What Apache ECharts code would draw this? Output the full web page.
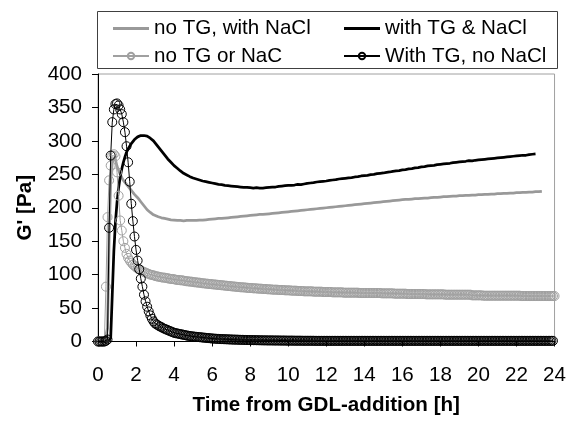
<!DOCTYPE html>
<html>
<head>
<meta charset="utf-8">
<script src="https://cdn.jsdelivr.net/npm/echarts@6/dist/echarts.min.js"></script>
<style>
html,body{margin:0;padding:0;background:#fff;}
#chart{width:569px;height:421px;}
</style>
</head>
<body>
<div id="chart"></div>
<script>
// Sampling times (minutes after GDL addition) for the two line series: 5-min up to 3 h, then 10-min
const lineMinutes = [
  0,5,10,15,20,25,30,35,40,45,50,55,60,65,70,75,80,85,90,95,100,105,110,115,120,125,130,135,140,145,150,155,160,165,170,175,180,
  190,200,210,220,230,240,
  250,260,270,280,290,300,
  310,320,330,340,350,360,
  370,380,390,400,410,420,
  430,440,450,460,470,480,
  490,500,510,520,530,540,
  550,560,570,580,590,600,
  610,620,630,640,650,660,
  670,680,690,700,710,720,
  730,740,750,760,770,780,
  790,800,810,820,830,840,
  850,860,870,880,890,900,
  910,920,930,940,950,960,
  970,980,990,1000,1010,1020,
  1030,1040,1050,1060,1070,1080,
  1090,1100,1110,1120,1130,1140,
  1150,1160,1170,1180,1190,1200,
  1210,1220,1230,1240,1250,1260,
  1270,1280,1290,1300,1310,1320,
  1330,1340,1350,1360,1370,1380,
  1390,1400
];

// Sampling times (minutes) for the two marker series: every 5 min
const markerMinutes = [
  0,5,10,15,20,25,30,35,40,45,50,55,60,65,70,75,80,85,90,95,100,105,110,115,120,125,130,135,140,145,150,155,160,165,170,175,180,
  185,190,195,200,205,210,215,220,225,230,235,240,
  245,250,255,260,265,270,275,280,285,290,295,300,
  305,310,315,320,325,330,335,340,345,350,355,360,
  365,370,375,380,385,390,395,400,405,410,415,420,
  425,430,435,440,445,450,455,460,465,470,475,480,
  485,490,495,500,505,510,515,520,525,530,535,540,
  545,550,555,560,565,570,575,580,585,590,595,600,
  605,610,615,620,625,630,635,640,645,650,655,660,
  665,670,675,680,685,690,695,700,705,710,715,720,
  725,730,735,740,745,750,755,760,765,770,775,780,
  785,790,795,800,805,810,815,820,825,830,835,840,
  845,850,855,860,865,870,875,880,885,890,895,900,
  905,910,915,920,925,930,935,940,945,950,955,960,
  965,970,975,980,985,990,995,1000,1005,1010,1015,1020,
  1025,1030,1035,1040,1045,1050,1055,1060,1065,1070,1075,1080,
  1085,1090,1095,1100,1105,1110,1115,1120,1125,1130,1135,1140,
  1145,1150,1155,1160,1165,1170,1175,1180,1185,1190,1195,1200,
  1205,1210,1215,1220,1225,1230,1235,1240,1245,1250,1255,1260,
  1265,1270,1275,1280,1285,1290,1295,1300,1305,1310,1315,1320,
  1325,1330,1335,1340,1345,1350,1355,1360,1365,1370,1375,1380,
  1385,1390,1395,1400,1405,1410,1415,1420,1425,1430,1435,1440
];

// no TG, with NaCl (grey line)
const noTGwithNaCl = [
  0,0,0,0,0,0,20,150,240,268,275,272,262,256,250,245,241,238,235,232,229,226,223,220,218,215,212,209,206,203,200,197,195,193,191,189.5,188,
  186.5,185,184,183,182,181.5,
  181,181,180.5,181,181,181,
  181,181.5,181.5,182,182.5,183,
  183.5,184,184,184.5,185,185.5,
  186,186.5,187,187.5,188,188.5,
  189,189.5,190,190,190.5,191,
  191.5,192,192.5,193,193.5,194,
  194.5,195,195.5,196,196.5,197,
  197.5,198,198.5,199,199.5,200,
  200.5,201,201.5,202,202.5,203,
  203.5,204,204.5,205,205.5,206,
  206.5,207,207.5,208,208.5,209,
  209.5,210,210.5,211,211.5,212,
  212.5,212.5,213,213.5,213.5,214,
  214.5,214.5,215,215.5,215.5,216,
  216.5,216.5,217,217.5,217.5,218,
  218,218.5,218.5,219,219,219.5,
  219.5,220,220,220.5,220.5,221,
  221,221.5,221.5,222,222,222.5,
  222.5,223,223,223.5,223.5,224,
  224,224.5
];

// with TG & NaCl (black line)
const withTGandNaCl = [
  0,0,0,0,0,0,0,0,5,70,135,178,208,230,246,258,268,276,283,288,292,296,299,302,304,306,307,308,308,308,308,307,306,304,302,300,297,
  291,285,279,273,268,263,
  259,255,251.5,249,246.5,244.5,
  243,241.5,240,239,238,237,
  236,235,234.5,233.5,233,232.5,
  232,231.5,231,230.5,230.5,230,
  229.5,230,229.5,229.5,230,230.5,
  231,231,232,232.5,233,233.5,
  233.5,234,235,234.5,235.5,236.5,
  237,237.5,238.5,239,239.5,240,
  241,241.5,242,243,243.5,244,
  244.5,245,246,246.5,247.5,248,
  248.5,249.5,250,251,251.5,252,
  253,253.5,254.5,255,255.5,256.5,
  257,258,258.5,259.5,260,261,
  261.5,262.5,263,263.5,264.5,265,
  265.5,266,266.5,267.5,268,268.5,
  269,269.5,270.5,270,271,271.5,
  272,272.5,273,273.5,274,274.5,
  275,275.5,276,276.5,277,277.5,
  278,278.5,278.5,279.5,280,280.5
];

// no TG or NaC (grey circles), 5-min samples
const noTGorNaC = [
  0,0,0,0,0,82,186,241,263,278,280,277,253,218,181,166,150,140,131,125,121,118,115,113,111,109,108,106.5,105,104,103,102,101,100,99.5,99,98,
  97.5,97,96.5,96,95.5,95.5,95,94.5,94,93.5,93.5,93,
  92.5,92,92,91.5,91.5,91,90.5,90,90,89.5,89.5,89,
  88.5,88.5,88,88,87.5,87,87,86.5,86.5,86,86,85.5,
  85.5,85,85,84.5,84.5,84,84,83.5,83.5,83,83,82.5,
  82.5,82,82,81.5,81.5,81,81,81,80.5,80.5,80,80,
  80,79.5,79.5,79.5,79,79,79,78.5,78.5,78.5,78,78,
  78,77.5,77.5,77.5,77.5,77,77,77,77,76.5,76.5,76.5,
  76.5,76,76,76,76,75.5,75.5,75.5,75.5,75,75,75,
  75,75,75,74.5,74.5,74.5,74.5,74.5,74.5,74,74,74,
  74,74,74,73.5,73.5,73.5,73.5,73.5,73.5,73.5,73,73,
  73,73,73,73,73,73,73,73,72.5,72.5,72.5,72.5,
  72.5,72.5,72.5,72.5,72.5,72.5,72.5,72.5,72.5,72.5,72,72,
  72,72,72,72,72,72,71.5,71.5,71.5,71.5,71.5,71.5,
  71.5,71.5,71,71,71,71,71,71,71,71,71,71,
  71,71,70.5,70.5,70.5,70.5,70.5,70.5,70.5,70.5,70.5,70.5,
  70.5,70.5,70,70,70,70,70,70,70,70,70,70,
  70,70,70,70,70,70,70,69,69,69,69,69,
  69,69,68.5,68.5,68.5,68.5,68.5,68.5,68.5,68.5,68.5,68.5,
  68.5,68.5,68.5,68.5,68.5,68.5,68.5,68.5,68.5,68.5,68.5,68.5,
  68.5,68.5,68,68,68,68,68,68,68,68,68,68,
  68,68,68,68,68,68,68,68,68,68,68,68
];

// With TG, no NaCl (black circles), 5-min samples
const withTGnoNaCl = [
  0,0,0,0,0,1,3,170,278,328,347,355,356,353,347,340,328,313,292,268,239,206,180,157,137,121,108,94,82,70,60,52,45,39,34,30,27,
  25.5,24,22.5,21.5,20,19,18,17,16,15,14,13,
  12.5,12,11.5,11,10.5,10,9.5,9,8.5,8.2,7.8,7.5,
  7.2,7,6.7,6.5,6.2,6,5.7,5.5,5.2,5,4.8,4.5,
  4.3,4.2,4,3.9,3.7,3.6,3.5,3.4,3.3,3.2,3.1,3,
  2.9,2.8,2.8,2.7,2.6,2.5,2.5,2.4,2.3,2.2,2.2,2.1,
  2.1,2,2,1.9,1.9,1.8,1.8,1.7,1.7,1.7,1.6,1.6,
  1.6,1.6,1.5,1.5,1.5,1.5,1.4,1.4,1.4,1.4,1.3,1.3,
  1.3,1.3,1.3,1.2,1.2,1.2,1.2,1.2,1.1,1.1,1.1,1.1,
  1.1,1.1,1.1,1.1,1,1,1,1,1,1,1,1,
  1,1,1,1,1,1,1,1,1,1,1,1,
  1,1,1,1,1,1,1,1,1,1,1,1,
  1,1,1,1,1,1,1,1,1,1,1,1,
  1,1,1,1,1,1,1,1,1,1,1,1,
  1,1,1,1,1,1,1,1,1,1,1,1,
  1,1,1,1,1,1,1,1,1,1,1,1,
  1,1,1,1,1,1,1,1,1,1,1,1,
  1,1,1,1,1,1,1,1,1,1,1,1,
  1,1,1,1,1,1,1,1,1,1,1,1,
  1,1,1,1,1,1,1,1,1,1,1,1,
  1,1,1,1,1,1,1,1,1,1,1,1,
  1,1,1,1,1,1,1,1,1,1,1
];

const xTicks = [0,2,4,6,8,10,12,14,16,18,20,22,24];
const yTicks = [0,50,100,150,200,250,300,350,400];

function pairs(times, vals){ return vals.map((v,i)=>[times[i]/60, v]); }

const FONT = '"Liberation Sans", Arial, sans-serif';
const FS = 20.6;
const lineIcon = 'path://M0 0H36V3H0Z';
const chart = echarts.init(document.getElementById('chart'), null, {renderer:'canvas'});
chart.setOption({
  animation:false,
  backgroundColor:'#fff',
  textStyle:{fontFamily:FONT},
  grid:{left:98,right:11,top:74,bottom:75,show:true,borderColor:'#a0a0a0',borderWidth:1,backgroundColor:'transparent'},
  legend:[
    {data:[{name:'no TG, with NaCl',icon:lineIcon},'no TG or NaC'],orient:'vertical',left:112,top:18,padding:0,itemGap:6.5,
     itemWidth:36,itemHeight:8,selectedMode:false,textStyle:{fontSize:FS,color:'#000',fontFamily:FONT}},
    {data:[{name:'with TG & NaCl',icon:lineIcon},'With TG, no NaCl'],orient:'vertical',left:343,top:18,padding:0,itemGap:6.5,
     itemWidth:36,itemHeight:8,selectedMode:false,textStyle:{fontSize:FS,color:'#000',fontFamily:FONT}}
  ],
  graphic:[{type:'rect',shape:{x:97.5,y:11.5,width:460,height:57},style:{fill:'none',stroke:'#404040',lineWidth:1},silent:true}],
  xAxis:{type:'value',min:xTicks[0],max:xTicks[xTicks.length-1],interval:2,
    name:'Time from GDL-addition [h]',nameLocation:'middle',nameGap:64,
    nameTextStyle:{fontSize:FS,fontWeight:'bold',color:'#000',fontFamily:FONT,verticalAlign:'middle'},
    axisLine:{lineStyle:{color:'#000',width:1}},
    axisTick:{show:true,inside:false,length:5,lineStyle:{color:'#000'}},
    axisLabel:{fontSize:FS,color:'#000',margin:23,fontFamily:FONT},
    splitLine:{show:false}},
  yAxis:{type:'value',min:yTicks[0],max:yTicks[yTicks.length-1],interval:50,
    name:"G' [Pa]",nameLocation:'middle',nameGap:73,nameRotate:90,
    nameTextStyle:{fontSize:FS,fontWeight:'bold',color:'#000',fontFamily:FONT,verticalAlign:'middle'},
    axisLine:{show:true,lineStyle:{color:'#000',width:1}},
    axisTick:{show:true,inside:false,length:6,lineStyle:{color:'#000'}},
    axisLabel:{fontSize:FS,color:'#000',margin:16,fontFamily:FONT},
    splitLine:{show:false}},
  series:[
    {name:'no TG, with NaCl',type:'line',data:pairs(lineMinutes,noTGwithNaCl),symbol:'none',showSymbol:false,
     lineStyle:{color:'#999999',width:2.75},itemStyle:{color:'#999999'},z:2},
    {name:'with TG & NaCl',type:'line',data:pairs(lineMinutes,withTGandNaCl),symbol:'none',showSymbol:false,
     lineStyle:{color:'#000000',width:2.75},itemStyle:{color:'#000000'},z:3},
    {name:'no TG or NaC',type:'line',data:pairs(markerMinutes,noTGorNaC),symbol:'circle',symbolSize:9,showAllSymbol:true,
     lineStyle:{color:'#a0a0a0',width:1},itemStyle:{color:'rgba(255,255,255,0)',borderColor:'#a0a0a0',borderWidth:1},z:4},
    {name:'With TG, no NaCl',type:'line',data:pairs(markerMinutes,withTGnoNaCl),symbol:'circle',symbolSize:9,showAllSymbol:true,
     lineStyle:{color:'#000000',width:1},itemStyle:{color:'rgba(255,255,255,0)',borderColor:'#000000',borderWidth:1},z:5}
  ]
});
</script>
</body>
</html>
